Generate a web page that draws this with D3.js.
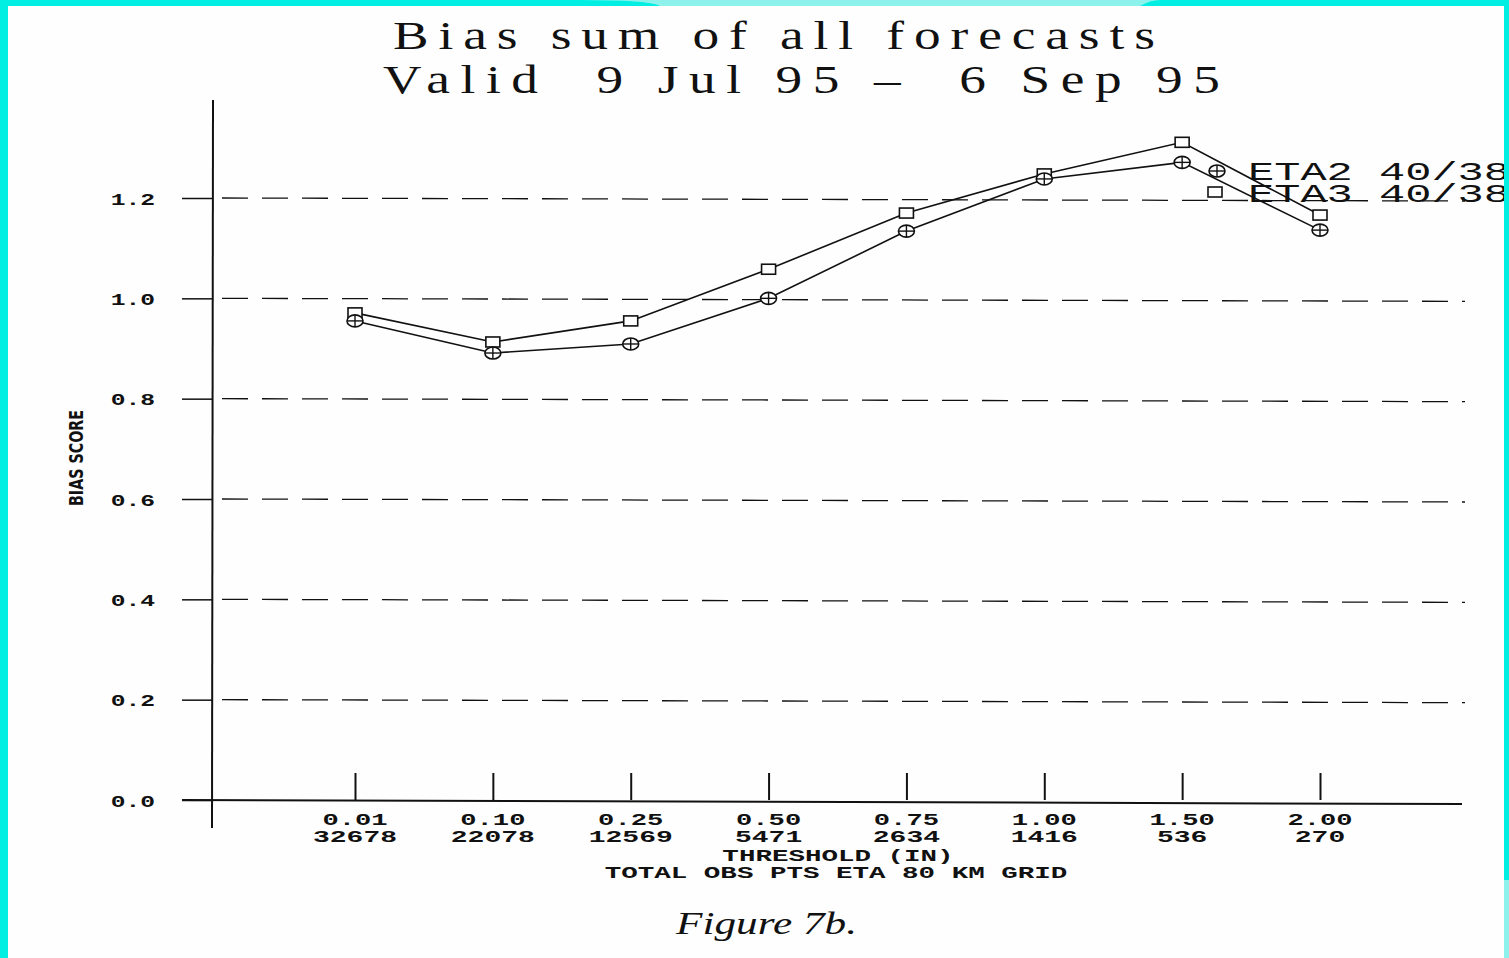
<!DOCTYPE html>
<html>
<head>
<meta charset="utf-8">
<script src="https://cdn.jsdelivr.net/npm/d3@7"></script>
<style>
  body { margin: 0; background: #00efe2; }
  svg { display: block; }
</style>
</head>
<body>
<div id="container"></div>
<script>

// thresholds and obs counts along the bottom
var thresholds = ["0.01", "0.10", "0.25", "0.50", "0.75", "1.00", "1.50", "2.00"];
var obsPts = ["32678", "22078", "12569", "5471", "2634", "1416", "536", "270"];

// bias scores
var eta2 = [0.955, 0.891, 0.909, 1.000, 1.134, 1.238, 1.271, 1.136];
var eta3 = [0.971, 0.913, 0.955, 1.058, 1.170, 1.248, 1.311, 1.166];

var yTicks = [0.0, 0.2, 0.4, 0.6, 0.8, 1.0, 1.2];
var seriesNames = ["ETA2 40/38", "ETA3 40/38"];

var W = 1509, H = 958;

var svg = d3.select("#container").append("svg")
    .attr("width", W)
    .attr("height", H);

// cyan frame, paper inside
svg.append("rect").attr("x", 0).attr("y", 0).attr("width", W).attr("height", H).attr("fill", "#00efe2");
svg.append("rect").attr("x", 8).attr("y", 6).attr("width", 1496).attr("height", H - 6).attr("fill", "#fefefe");
svg.append("path")
    .attr("d", "M580,0 Q650,0 660,6 L1140,6 Q1150,0 1160,0 Z")
    .attr("fill", "#8ef2ec");

var x = d3.scalePoint()
    .domain(thresholds)
    .range([355, 1320]);

var y = d3.scaleLinear()
    .domain([0, 1.2])
    .range([800, 198]);

var ink = "#111";

// wide typewriter text helper: translate then stretch horizontally
function wideText(g, tx, ty, str, size, sx, anchor, weight){
    return g.append("text")
	.attr("transform", "translate(" + tx + "," + ty + ") scale(" + sx + ",1)")
	.attr("text-anchor", anchor || "middle")
	.attr("font-family", "'Liberation Mono', 'DejaVu Sans Mono', monospace")
	.attr("font-weight", weight || "bold")
	.attr("font-size", size)
	.attr("fill", ink)
	.text(str);
}

// title: serif, stretched 1.3x and spread out to the measured width
function titleLine(tx, ty, str, width){
    svg.append("text")
	.attr("transform", "translate(" + tx + "," + ty + ") scale(1.3,1)")
	.attr("font-family", "'Liberation Serif', serif")
	.attr("font-size", 41)
	.attr("textLength", width / 1.3)
	.attr("lengthAdjust", "spacing")
	.attr("xml:space", "preserve")
	.attr("fill", ink)
	.text(str);
}
titleLine(393, 49, "Bias sum of all forecasts", 762);
titleLine(383, 93, "Valid  9 Jul 95 \u2013  6 Sep 95", 837);

// horizontal dashed grid
svg.append("g").selectAll("line")
    .data(yTicks.filter(function(d){ return d > 0; }))
    .enter().append("line")
    .attr("x1", 222).attr("x2", 1465)
    .attr("y1", function(d){ return y(d); })
    .attr("y2", function(d){ return y(d) + 3; })
    .attr("stroke", ink)
    .attr("stroke-width", 1.3)
    .attr("stroke-dasharray", "26,14");

// y axis
var yAxis = d3.axisLeft(y)
    .tickValues(yTicks)
    .tickSize(31)
    .tickPadding(0)
    .tickFormat(d3.format(".1f"));

var gy = svg.append("g")
    .attr("transform", "translate(213,0)")
    .call(yAxis);
gy.select(".domain").remove();
gy.selectAll(".tick line").attr("stroke", ink).attr("stroke-width", 1.5);
gy.selectAll(".tick text").remove();
gy.selectAll(".tick").each(function(d){
    wideText(d3.select(this), -58, 6, d3.format(".1f")(d), 17, 1.45, "end");
});

svg.append("line")
    .attr("x1", 213).attr("x2", 212)
    .attr("y1", 100).attr("y2", 828)
    .attr("stroke", ink).attr("stroke-width", 2);

// x axis
var xAxis = d3.axisTop(x)
    .tickSize(27)
    .tickFormat("");

var gx = svg.append("g")
    .attr("transform", "translate(0,800)")
    .call(xAxis);
gx.select(".domain").remove();
gx.selectAll(".tick line").attr("stroke", ink).attr("stroke-width", 2);

svg.append("line")
    .attr("x1", 182).attr("x2", 1462)
    .attr("y1", 800).attr("y2", 804)
    .attr("stroke", ink).attr("stroke-width", 2);

thresholds.forEach(function(t, i){
    wideText(svg, x(t), 825, t, 17, 1.6);
    wideText(svg, x(t), 842, obsPts[i], 17, 1.65);
});

wideText(svg, 838, 861, "THRESHOLD (IN)", 17, 1.62);
wideText(svg, 836, 878, "TOTAL OBS PTS ETA 80 KM GRID", 17, 1.62);

// y label
svg.append("text")
    .attr("transform", "translate(83,458) rotate(-90) scale(1,1.25)")
    .attr("text-anchor", "middle")
    .attr("font-family", "'DejaVu Sans Condensed', 'DejaVu Sans', sans-serif")
    .attr("font-weight", "bold")
    .attr("font-size", 15)
    .attr("textLength", 96)
    .attr("lengthAdjust", "spacingAndGlyphs")
    .attr("fill", ink)
    .text("BIAS SCORE");

// lines
var line = d3.line()
    .x(function(d, i){ return x(thresholds[i]); })
    .y(function(d){ return y(d); });

[eta2, eta3].forEach(function(s){
    svg.append("path")
	.datum(s)
	.attr("d", line)
	.attr("fill", "none")
	.attr("stroke", ink)
	.attr("stroke-width", 1.6);
});

// markers
function circlePlus(g, cx, cy){
    g.append("ellipse").attr("cx", cx).attr("cy", cy).attr("rx", 8).attr("ry", 6)
	.attr("fill", "#fefefe").attr("stroke", ink).attr("stroke-width", 1.6);
    g.append("line").attr("x1", cx - 8).attr("x2", cx + 8).attr("y1", cy).attr("y2", cy)
	.attr("stroke", ink).attr("stroke-width", 1.4);
    g.append("line").attr("x1", cx).attr("x2", cx).attr("y1", cy - 6).attr("y2", cy + 6)
	.attr("stroke", ink).attr("stroke-width", 1.4);
}

function square(g, cx, cy){
    g.append("rect").attr("x", cx - 7).attr("y", cy - 5).attr("width", 14).attr("height", 10)
	.attr("fill", "#fefefe").attr("stroke", ink).attr("stroke-width", 1.6);
}

var marks = svg.append("g");
eta3.forEach(function(d, i){ square(marks, x(thresholds[i]), y(d)); });
eta2.forEach(function(d, i){ circlePlus(marks, x(thresholds[i]), y(d)); });

// legend
circlePlus(marks, 1217, 171);
square(marks, 1215, 192);
var leg = svg.append("g");
seriesNames.forEach(function(name, i){
    leg.append("text")
	.attr("x", 1248).attr("y", 180 + i * 22)
	.attr("font-family", "'Liberation Mono', 'DejaVu Sans Mono', monospace")
	.attr("font-size", 25)
	.attr("textLength", 262)
	.attr("lengthAdjust", "spacingAndGlyphs")
	.attr("fill", ink)
	.text(name);
});

// caption
svg.append("text")
    .attr("x", 676).attr("y", 934)
    .attr("font-family", "'Liberation Serif', serif")
    .attr("font-style", "italic")
    .attr("font-size", 31)
    .attr("textLength", 181)
    .attr("lengthAdjust", "spacingAndGlyphs")
    .attr("fill", ink)
    .text("Figure 7b.");

// right border drawn last, so the legend is clipped by it
svg.append("rect").attr("x", 1504).attr("y", 0).attr("width", 5).attr("height", H).attr("fill", "#00efe2");
svg.append("rect").attr("x", 1504).attr("y", 880).attr("width", 5).attr("height", 78).attr("fill", "#8ef2ec");

</script>
</body>
</html>
